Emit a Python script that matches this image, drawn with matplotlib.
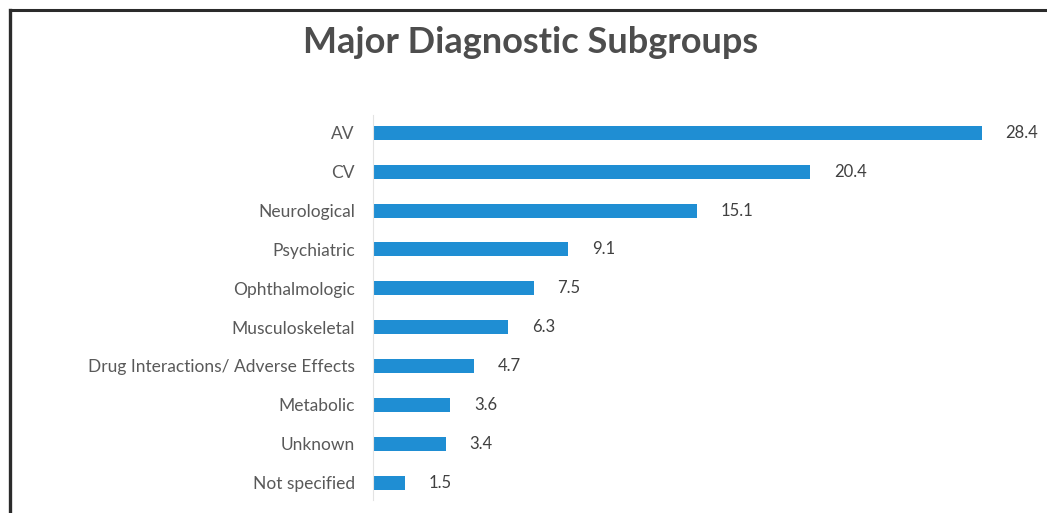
import matplotlib.pyplot as plt
from matplotlib.lines import Line2D

# data
categories = ['AV', 'CV', 'Neurological', 'Psychiatric', 'Ophthalmologic',
              'Musculoskeletal', 'Drug Interactions/ Adverse Effects',
              'Metabolic', 'Unknown', 'Not specified']
values = [28.4, 20.4, 15.1, 9.1, 7.5, 6.3, 4.7, 3.6, 3.4, 1.5]

W, H = 1047, 513
fig = plt.figure(figsize=(W / 100, H / 100), dpi=100)
plt.rcParams['font.family'] = ['Lato', 'DejaVu Sans']

# frame (left and top edges only)
fig.lines.append(Line2D([10 / W, 10 / W], [0, 1 - 10 / H], transform=fig.transFigure,
                        color='#2b2b2b', linewidth=2.4))
fig.lines.append(Line2D([10 / W, 1], [1 - 10 / H, 1 - 10 / H], transform=fig.transFigure,
                        color='#2b2b2b', linewidth=2.2))

px = 21.44  # pixels per unit
left = 373
xmax = 30.6
top, bottom = 115, 500
ax = fig.add_axes([left / W, 1 - bottom / H, xmax * px / W, (bottom - top) / H])

pos = list(range(len(categories)))
ax.barh(pos, values, height=0.36, color='#1f8ed3')
ax.set_xlim(0, xmax)
ax.set_ylim(9.45, -0.46)

ax.set_yticks(pos)
ax.set_yticklabels(categories, fontsize=12.5, color='#595959')
ax.tick_params(axis='y', length=0, pad=13)
ax.set_xticks([])
for s in ['top', 'right', 'bottom']:
    ax.spines[s].set_visible(False)
ax.spines['left'].set_color('#e3e3e3')

for p, v in zip(pos, values):
    ax.annotate(f'{v}', (v, p), xytext=(17, 0), textcoords='offset points',
                va='center', ha='left', fontsize=12, color='#404040')

fig.text(531 / W, 1 - 43 / H, 'Major Diagnostic Subgroups', ha='center',
         va='center', fontsize=26, fontweight='bold', color='#4d4d4d')

fig.savefig('out.png', dpi=100)
